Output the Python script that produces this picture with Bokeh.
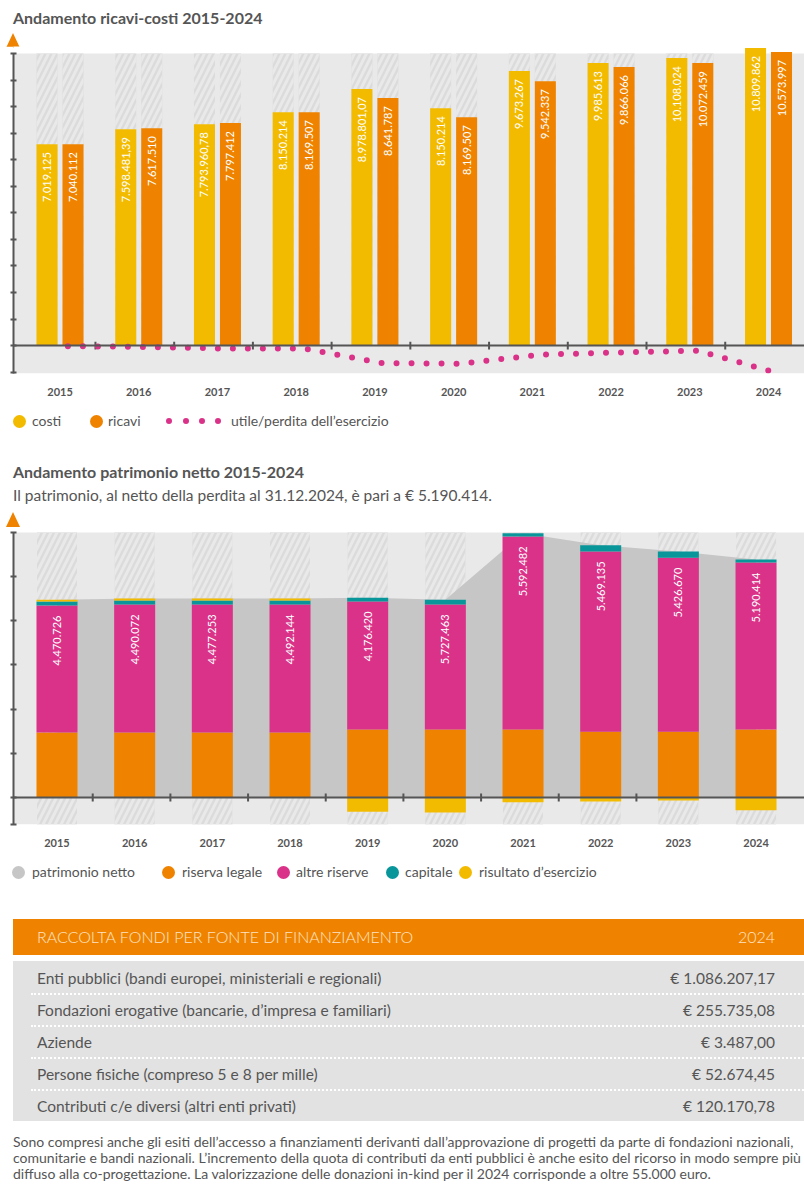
import numpy as np
from math import pi
from bokeh.plotting import figure
from bokeh.models import Range1d, FixedTicker, BoxAnnotation, Span, Div, CustomJSTickFormatter
from bokeh.layouts import column
from bokeh.core.properties import value
from bokeh.embed import file_html
from bokeh.resources import INLINE

# ---------------- data ----------------
anni = [2015, 2016, 2017, 2018, 2019, 2020, 2021, 2022, 2023, 2024]
etichette_anni = ["2015", "2016", "2017", "2018", "2019", "2020", "2021", "2022", "2023", "2024"]

# chart 1 (bar heights in millions of euro, as drawn)
costi = [7.585, 8.15, 8.34, 8.79, 9.66, 8.94, 10.34, 10.64, 10.83, 11.21]
ricavi = [7.585, 8.19, 8.38, 8.79, 9.32, 8.60, 9.96, 10.49, 10.64, 11.06]
costi_lbl = ["7.019.125", "7.598.481,39", "7.793.960,78", "8.150.214", "8.978.801,07",
             "8.150.214", "9.673.267", "9.985.613", "10.108.024", "10.809.862"]
ricavi_lbl = ["7.040.112", "7.617.510", "7.797.412", "8.169.507", "8.641.787",
              "8.169.507", "9.542.337", "9.866.066", "10.072.459", "10.573.997"]
utile = [-0.02, -0.05, -0.11, -0.11, -0.66, -0.68, -0.34, -0.26, -0.19, -1.02]

# chart 2 (millions of euro, as drawn)
riserva_legale = [1.47, 1.47, 1.47, 1.47, 1.54, 1.54, 1.54, 1.49, 1.49, 1.54]
altre_riserve = [2.875, 2.90, 2.90, 2.90, 2.90, 2.83, 4.37, 4.08, 3.94, 3.78]
capitale = [0.09, 0.09, 0.09, 0.09, 0.08, 0.11, 0.07, 0.14, 0.14, 0.07]
risultato = [0.045, 0.045, 0.045, 0.045, -0.32, -0.34, -0.11, -0.09, -0.07, -0.29]
patrimonio_lbl = ["4.470.726", "4.490.072", "4.477.253", "4.492.144", "4.176.420",
                  "5.727.463", "5.592.482", "5.469.135", "5.426.670", "5.190.414"]

# table
fonti = ["Enti pubblici (bandi europei, ministeriali e regionali)",
         "Fondazioni erogative (bancarie, d\u2019impresa e familiari)",
         "Aziende",
         "Persone fisiche (compreso 5 e 8 per mille)",
         "Contributi c/e diversi (altri enti privati)"]
importi = ["\u20ac 1.086.207,17", "\u20ac 255.735,08", "\u20ac 3.487,00", "\u20ac 52.674,45", "\u20ac 120.170,78"]

# ---------------- style ----------------
FONT = "Lato"
TXT = "#555555"
C_COSTI = "#f3bb00"
C_RICAVI = "#ef8300"
C_MAGENTA = "#da3288"
C_TEAL = "#08969a"
C_AREA = "#c6c6c6"
C_BG = "#e9e9e9"
HATCH = dict(fill_color="#dbdbdb", line_color=None, hatch_pattern="/", hatch_color="#e9e9e9",
             hatch_scale=12, hatch_weight=3)
W = 804


def style_axes(p, yticks, ybounds):
    p.xgrid.visible = False
    p.ygrid.visible = False
    p.yaxis.ticker = FixedTicker(ticks=yticks)
    p.yaxis.bounds = ybounds
    p.yaxis.formatter = CustomJSTickFormatter(code="return ''")
    p.yaxis.axis_line_color = TXT
    p.yaxis.axis_line_width = 2
    p.yaxis.major_tick_line_color = TXT
    p.yaxis.major_tick_line_width = 2
    p.yaxis.major_tick_in = 3
    p.yaxis.major_tick_out = 3
    p.yaxis.minor_tick_line_color = None
    p.yaxis.major_label_standoff = 0
    p.xaxis.ticker = FixedTicker(ticks=anni)
    p.xaxis.major_label_overrides = {a: l for a, l in zip(anni, etichette_anni)}
    p.xaxis.axis_line_color = None
    p.xaxis.major_tick_line_color = None
    p.xaxis.minor_tick_line_color = None
    p.xaxis.major_label_standoff = 8
    p.xaxis.major_label_text_font = FONT
    p.xaxis.major_label_text_font_style = "bold"
    p.xaxis.major_label_text_font_size = "11px"
    p.xaxis.major_label_text_color = TXT


def make_fig(height, xr, yr):
    return figure(width=W, height=height, x_range=Range1d(*xr), y_range=Range1d(*yr),
                  output_backend="svg", toolbar_location=None, min_border_left=13, min_border_right=0,
                  min_border_top=0, min_border_bottom=32, background_fill_color="white",
                  border_fill_color="white", outline_line_color=None)


x = np.array(anni, dtype=float)

# ---------------- chart 1 ----------------
OFF1, W1 = 0.165, 0.267
p1 = make_fig(359, (2014.409, 2024.457), (-1.05, 11.264))
style_axes(p1, [-1, 0, 1, 2, 3, 4, 5, 6, 7, 8, 9, 10, 11], (-1.05, 11))
p1.add_layout(BoxAnnotation(bottom=-1.05, top=11, fill_color=C_BG, fill_alpha=1, line_color=None, level="underlay"))
for off in (-OFF1, OFF1):
    p1.vbar(x=x + off, top=11, bottom=0, width=W1, **HATCH)
p1.vbar(x=x - OFF1, top=costi, bottom=0, width=W1, fill_color=C_COSTI, line_color=None)
p1.vbar(x=x + OFF1, top=ricavi, bottom=0, width=W1, fill_color=C_RICAVI, line_color=None)
for off, vals, lbls in ((-OFF1, costi, costi_lbl), (OFF1, ricavi, ricavi_lbl)):
    p1.text(x=x + off, y=vals, text=lbls, angle=pi / 2, text_align="right", text_baseline="middle",
            y_offset=8, text_color="white", text_font=value(FONT), text_font_size="11px")
p1.add_layout(Span(location=0, dimension="width", line_color=TXT, line_width=2))
p1.segment(x0=x[:-1] + 0.45, y0=-0.15, x1=x[:-1] + 0.45, y1=0.15, line_color=TXT, line_width=2)
p1.line(x=x + 0.1, y=utile, line_color=C_MAGENTA, line_width=6, line_dash="0 15", line_cap="round")

# ---------------- chart 2 ----------------
W2, WH2 = 0.528, 0.515
p2 = make_fig(326, (2014.440, 2024.624), (-0.611, 6.045))
style_axes(p2, [-0.6, 0, 1, 2, 3, 4, 5, 6], (-0.611, 6))
p2.add_layout(BoxAnnotation(bottom=-0.611, top=6, fill_color=C_BG, fill_alpha=1, line_color=None, level="underlay"))
p2.vbar(x=x, top=6, bottom=-0.611, width=WH2, **HATCH)
rl = np.array(riserva_legale)
ar = np.array(altre_riserve)
cap = np.array(capitale)
ris = np.array(risultato)
b2 = rl + ar
b3 = b2 + cap
totale = b3 + np.maximum(ris, 0)
p2.varea(x=x, y1=0, y2=totale, fill_color=C_AREA)
p2.vbar(x=x, bottom=0, top=rl, width=W2, fill_color=C_RICAVI, line_color=None)
p2.vbar(x=x, bottom=rl, top=b2, width=W2, fill_color=C_MAGENTA, line_color=None)
p2.vbar(x=x, bottom=b2, top=b3, width=W2, fill_color=C_TEAL, line_color=None)
p2.vbar(x=x, bottom=np.where(ris >= 0, b3, ris), top=np.where(ris >= 0, b3 + ris, 0), width=W2,
        fill_color=C_COSTI, line_color=None)
p2.text(x=x, y=b2, text=patrimonio_lbl, angle=pi / 2, text_align="right", text_baseline="middle",
        y_offset=10, text_color="white", text_font=value(FONT), text_font_size="11px")
p2.add_layout(Span(location=0, dimension="width", line_color=TXT, line_width=2))
p2.segment(x0=x[:-2] + 0.46, y0=-0.09, x1=x[:-2] + 0.46, y1=0.09, line_color=TXT, line_width=2)

# ---------------- html blocks ----------------
BASE = "font-family:Lato,sans-serif;color:%s;" % TXT


def abs_text(left, top, txt, size=14, weight="normal", lh=20):
    return ('<div style="position:absolute;left:%dpx;top:%dpx;line-height:%dpx;font-size:%.1fpx;'
            'font-weight:%s;white-space:nowrap;">%s</div>' % (left, top, lh, size, weight, txt))


def dot(left, top, d, color):
    return ('<div style="position:absolute;left:%.1fpx;top:%.1fpx;width:%dpx;height:%dpx;'
            'border-radius:50%%;background:%s;"></div>' % (left, top, d, d, color))


def triangle(top):
    return ('<div style="position:absolute;left:6px;top:%dpx;width:0;height:0;'
            'border-left:7.5px solid transparent;border-right:7.5px solid transparent;'
            'border-bottom:15px solid %s;"></div>' % (top, C_RICAVI))


def block(h, inner):
    return Div(text='<div style="position:relative;width:%dpx;height:%dpx;%s">%s</div>' % (W, h, BASE, inner),
               width=W, height=h, margin=0)


div_a = block(46, abs_text(13, 8, "Andamento ricavi-costi 2015-2024", 16, "bold") + triangle(33))

leg1 = (dot(12.5, 9.5, 13, C_COSTI) + abs_text(32, 6, "costi") +
        dot(89.5, 9.5, 13, C_RICAVI) + abs_text(108, 6, "ricavi") +
        "".join(dot(c - 3, 13, 6, C_MAGENTA) for c in (169, 186, 202, 218)) +
        abs_text(231, 6, "utile/perdita dell\u2019esercizio"))
div_b = block(125, leg1 +
              abs_text(13, 57, "Andamento patrimonio netto 2015-2024", 16, "bold") +
              abs_text(13, 80, "Il patrimonio, al netto della perdita al 31.12.2024, \u00e8 pari a \u20ac 5.190.414.", 15.5) +
              triangle(107))

leg2_items = [("patrimonio netto", C_AREA, 11.5, 32), ("riserva legale", C_RICAVI, 162, 182),
              ("altre riserve", C_MAGENTA, 276.5, 296), ("capitale", C_TEAL, 386, 405),
              ("risultato d\u2019esercizio", C_COSTI, 458.5, 479)]
leg2 = "".join(dot(cl, 9.5, 13, col) + abs_text(tl, 6, lab) for lab, col, cl, tl in leg2_items)
div_c = block(63, leg2)

rows = ""
for i, (f, v) in enumerate(zip(fonti, importi)):
    sep = "border-top:2px dotted #ffffff;" if i > 0 else "border-top:2px solid transparent;"
    rows += ('<div style="box-sizing:border-box;height:32px;margin-left:18px;padding-left:6px;padding-right:29px;'
             'display:flex;justify-content:space-between;align-items:center;font-size:15.5px;%s">'
             '<span>%s</span><span>%s</span></div>' % (sep, f, v))
table = ('<div style="position:absolute;left:13px;top:0px;width:791px;height:36px;background:%s;'
         'box-sizing:border-box;padding:0 29px 0 24px;display:flex;justify-content:space-between;'
         'align-items:center;font-size:16px;font-weight:300;color:#fde3c6;">'
         '<span>RACCOLTA FONDI PER FONTE DI FINANZIAMENTO</span><span>2024</span></div>'
         '<div style="position:absolute;left:13px;top:42px;width:791px;height:160px;background:#e2e2e2;">%s</div>'
         % (C_RICAVI, rows))
div_d = block(214, table)

nota = ("Sono compresi anche gli esiti dell\u2019accesso a finanziamenti derivanti dall\u2019approvazione di progetti da parte di fondazioni nazionali,<br>"
        "comunitarie e bandi nazionali. L\u2019incremento della quota di contributi da enti pubblici \u00e8 anche esito del ricorso in modo sempre pi\u00f9<br>"
        "diffuso alla co-progettazione. La valorizzazione delle donazioni in-kind per il 2024 corrisponde a oltre 55.000 euro.")
div_e = block(54, '<div style="position:absolute;left:13px;top:1px;font-size:14px;line-height:16px;'
                  'white-space:nowrap;">%s</div>' % nota)

layout = column(div_a, p1, div_b, p2, div_c, div_d, div_e, spacing=0)
open("out.html", "w").write(file_html(layout, INLINE))
